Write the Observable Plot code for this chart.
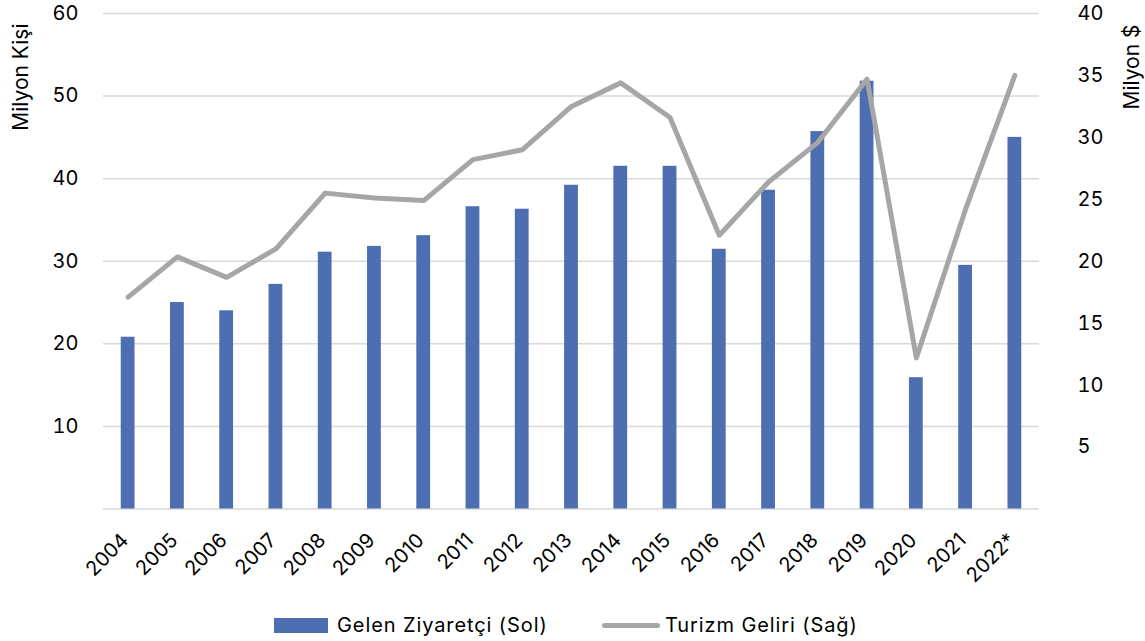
<!DOCTYPE html>
<html>
<head>
<meta charset="utf-8">
<script src="https://cdn.jsdelivr.net/npm/d3@7"></script>
<script src="https://cdn.jsdelivr.net/npm/@observablehq/plot@0.6"></script>
<style>
  html, body { margin: 0; padding: 0; background: #fff; }
  body { width: 1145px; height: 641px; overflow: hidden; font-family: Inter, "Open Sans", sans-serif; }
  #legend { position: relative; height: 41px; font-size: 20px; letter-spacing: 0.9px; color: #000; }
  #legend > * { position: absolute; }
  .sw-bar { left: 274px; top: 18px; width: 54px; height: 15px; background: #4e6eb2; }
  .sw-line { left: 602px; top: 23px; width: 58px; height: 5px; border-radius: 3px; background: #a6a6a6; }
  .t1 { left: 337px; top: 13px; }
  .t2 { left: 665px; top: 13px; }
</style>
</head>
<body>
<div id="chart"></div>
<div id="legend">
  <div class="sw-bar"></div><span class="t1">Gelen Ziyaretçi (Sol)</span>
  <div class="sw-line"></div><span class="t2">Turizm Geliri (Sağ)</span>
</div>
<script>
const years = ["2004","2005","2006","2007","2008","2009","2010","2011","2012","2013","2014","2015","2016","2017","2018","2019","2020","2021","2022*"];
const visitors = [20.8, 25.0, 24.0, 27.2, 31.1, 31.8, 33.1, 36.6, 36.3, 39.2, 41.5, 41.5, 31.45, 38.6, 45.7, 51.8, 15.9, 29.5, 45.0];
const revenue = [17.1, 20.35, 18.7, 21.0, 25.5, 25.1, 24.9, 28.2, 29.0, 32.5, 34.4, 31.6, 22.1, 26.4, 29.6, 34.7, 12.2, 24.2, 35.0];
const leftTicks = [10, 20, 30, 40, 50, 60];
const rightTicks = [5, 10, 15, 20, 25, 30, 35, 40];
const gridTicks = [0, 10, 20, 30, 40, 50, 60];

const k = 60 / 40;
const data = years.map((year, i) => ({year, visitors: visitors[i], revenue: revenue[i]}));

const chart = Plot.plot({
  width: 1145,
  height: 600,
  marginLeft: 103,
  marginRight: 106,
  marginTop: 13,
  marginBottom: 91.5,
  style: {fontFamily: "Inter, 'Open Sans', sans-serif", fontSize: "20px", color: "#000", background: "#fff", overflow: "visible"},
  x: {domain: years, paddingInner: 0.72, paddingOuter: 0.36, round: false, label: null},
  y: {domain: [0, 60], label: null},
  marks: [
    Plot.gridY(gridTicks, {stroke: "#d9d9d9", strokeOpacity: 1, strokeWidth: 1.5}),
    Plot.barY(data, {x: "year", y: "visitors", fill: "#4e6eb2"}),
    Plot.line(data, {x: "year", y: d => d.revenue * k, stroke: "#a6a6a6", strokeWidth: 5, strokeLinejoin: "round"}),
    Plot.axisY(leftTicks, {anchor: "left", tickSize: 0, tickPadding: 25, label: null, fontSize: 20, style: {letterSpacing: "1px"}}),
    Plot.axisY(rightTicks.map(v => v * k), {anchor: "right", tickSize: 0, tickPadding: 38, tickFormat: d => String(Math.round(d / k)), label: null, fontSize: 20, style: {letterSpacing: "1px"}}),
    Plot.axisX({tickRotate: -45, tickSize: 0, tickPadding: 28, dx: -3, label: null, fontSize: 20, style: {letterSpacing: "1.1px"}}),
    Plot.text(["Milyon Kişi"], {frameAnchor: "top-left", dx: -90, dy: 10, rotate: -90, textAnchor: "end", fontSize: 21, style: {letterSpacing: "1px"}}),
    Plot.text(["Milyon $"], {frameAnchor: "top-right", dx: 85, dy: 11, rotate: -90, textAnchor: "end", fontSize: 21, style: {letterSpacing: "1px"}})
  ]
});
document.getElementById("chart").append(chart);
</script>
</body>
</html>
